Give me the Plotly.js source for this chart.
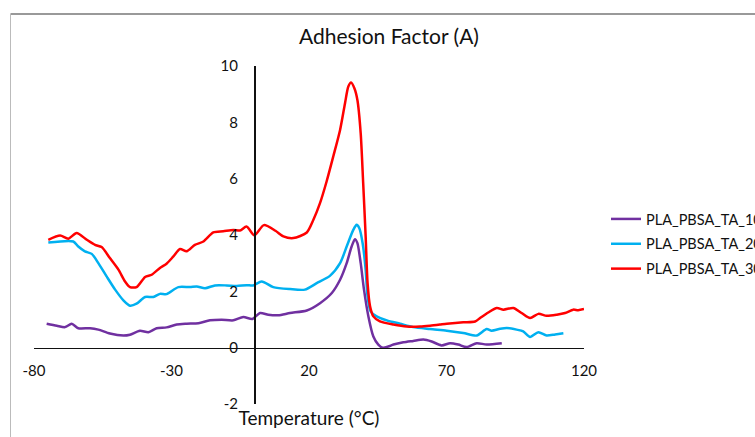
<!DOCTYPE html>
<html>
<head>
<meta charset="utf-8">
<script src="https://cdn.plot.ly/plotly-3.0.1.min.js"></script>
<style>html,body{margin:0;padding:0;background:#fff;}#chart{width:755px;height:437px;}</style>
</head>
<body>
<div id="chart"></div>
<script>
// Series names
const seriesNames = ["PLA_PBSA_TA_10", "PLA_PBSA_TA_20", "PLA_PBSA_TA_30"];

// PLA_PBSA_TA_10 (purple)
const t10 = [-75.4,-71.7,-68.7,-66.3,-63.9,-59.6,-56.6,-52.4,-47.5,-45.1,-41.5,-38.4,-35.4,-31.8,-28.1,-24.5,-20.2,-16.0,-11.8,-7.5,-3.9,-0.6,2.2,5.2,8.8,13.1,19.2,24.0,28.3,31.3,33.7,35.5,36.7,37.6,38.8,40.0,41.6,43.4,45.2,46.8,48.8,50.7,54.3,57.9,61.6,64.6,68.2,71.3,74.3,77.3,81.0,84.6,90.1];
const a10 = [0.85,0.78,0.73,0.85,0.69,0.69,0.64,0.50,0.43,0.46,0.60,0.55,0.69,0.72,0.82,0.85,0.87,0.97,0.99,0.97,1.09,1.02,1.23,1.17,1.15,1.23,1.32,1.58,1.94,2.41,3.00,3.59,3.85,3.71,3.00,2.06,1.11,0.40,0.11,0.00,0.04,0.11,0.19,0.24,0.29,0.22,0.08,0.16,0.11,0.02,0.16,0.11,0.16];

// PLA_PBSA_TA_20 (cyan)
const t20 = [-74.8,-65.7,-63.9,-61.5,-59.0,-56.6,-53.6,-50.5,-47.5,-45.1,-42.7,-39.6,-36.6,-34.2,-31.8,-27.5,-23.3,-20.8,-17.8,-14.2,-10.0,-6.3,-2.7,-0.3,2.8,7.0,13.1,18.5,22.8,27.6,31.3,33.7,36.1,37.3,38.3,39.5,40.6,41.3,42.4,44.6,48.3,53.1,57.9,64.0,70.1,76.1,81.0,84.6,86.4,89.5,91.9,95.5,97.9,100.4,103.4,106.4,109.5,112.5];
const a20 = [3.73,3.77,3.59,3.42,3.33,3.00,2.53,2.06,1.68,1.49,1.56,1.80,1.80,1.91,1.90,2.15,2.15,2.17,2.11,2.21,2.21,2.19,2.22,2.21,2.35,2.15,2.08,2.06,2.29,2.55,3.00,3.59,4.18,4.36,4.24,3.71,2.77,1.82,1.29,1.11,0.97,0.85,0.73,0.66,0.60,0.52,0.43,0.66,0.60,0.67,0.70,0.64,0.58,0.38,0.55,0.43,0.47,0.51];

// PLA_PBSA_TA_30 (red)
const t30 = [-74.8,-70.5,-67.5,-64.5,-60.8,-57.8,-55.4,-52.4,-49.3,-46.9,-45.1,-42.7,-39.6,-37.2,-34.2,-31.8,-29.3,-26.9,-24.5,-21.5,-18.4,-14.8,-11.2,-7.5,-5.1,-2.7,0.1,3.6,7.8,10.7,14.3,19.2,21.6,24.0,26.4,28.8,31.3,33.1,34.3,35.3,36.5,37.6,38.8,39.7,40.6,41.3,42.2,43.4,45.8,50.7,55.5,60.4,64.0,67.6,70.1,76.1,80.4,82.2,85.2,88.3,90.7,94.3,97.3,100.4,103.4,106.4,110.1,113.1,116.1,117.9,120.0];
const a30 = [3.83,3.98,3.87,4.07,3.83,3.65,3.57,3.18,2.77,2.35,2.15,2.15,2.51,2.59,2.83,2.98,3.24,3.50,3.42,3.65,3.77,4.09,4.13,4.18,4.16,4.30,3.99,4.35,4.15,3.95,3.89,4.09,4.54,5.13,5.90,6.78,7.73,8.68,9.27,9.41,9.21,8.79,7.61,5.84,3.95,2.29,1.47,1.11,0.93,0.82,0.75,0.75,0.78,0.82,0.85,0.90,0.93,1.05,1.25,1.41,1.35,1.41,1.23,1.05,1.20,1.13,1.17,1.23,1.35,1.33,1.37];

const xTicks = [-80, -30, 20, 70, 120];
const yTicks = [-2, 0, 2, 4, 6, 8, 10];

const colors = ["#7030A0", "#00B0F0", "#FF0000"];
const xs = [t10, t20, t30];
const ys = [a10, a20, a30];

const FONT = "Lato, 'Open Sans', sans-serif";

const traces = seriesNames.map((n, i) => ({
  type: "scatter",
  mode: "lines",
  name: n,
  x: xs[i],
  y: ys[i],
  legendgroup: "g" + i,
  line: {color: colors[i], width: 2.5, shape: "spline", smoothing: 0.7}
}));

const layout = {
  width: 755,
  height: 437,
  margin: {l: 34, r: 171, t: 66, b: 33, autoexpand: false},
  paper_bgcolor: "#ffffff",
  plot_bgcolor: "#ffffff",
  font: {family: FONT, color: "#111", size: 15},
  title: {
    text: "Adhesion Factor (A)",
    font: {family: FONT, size: 21, color: "#111"},
    xref: "container", yref: "container",
    x: 389 / 755, y: 1 - 37 / 437, xanchor: "center", yanchor: "middle"
  },
  xaxis: {
    range: [-80, 120],
    tickmode: "array", tickvals: xTicks, ticktext: xTicks.map(String),
    showgrid: false, zeroline: false,
    showline: true, linecolor: "#111", linewidth: 1.5,
    anchor: "free", position: 2 / 12,
    ticks: "", ticklabelstandoff: 9,
    tickfont: {family: FONT, size: 15, color: "#111"},
    title: {text: "Temperature (°C)", font: {family: FONT, size: 19, color: "#111"}, standoff: 33}
  },
  yaxis: {
    range: [-2, 10],
    tickmode: "array", tickvals: yTicks, ticktext: yTicks.map(String),
    showgrid: false, zeroline: false,
    showline: true, linecolor: "#111", linewidth: 1.5,
    anchor: "free", position: 0.4,
    ticks: "", ticklabelstandoff: 13,
    tickfont: {family: FONT, size: 15, color: "#111"}
  },
  legend: {
    x: (606 - 34) / 550, xanchor: "left",
    y: (404 - 203) / 338, yanchor: "top",
    font: {family: FONT, size: 14.5, color: "#111"},
    tracegroupgap: 3,
    bgcolor: "rgba(0,0,0,0)"
  },
  showlegend: true,
  shapes: [
    {type: "line", xref: "paper", yref: "paper", x0: (10.5 - 34) / 550, x1: (756 - 34) / 550, y0: (404 - 14) / 338, y1: (404 - 14) / 338, line: {color: "#999", width: 2}},
    {type: "line", xref: "paper", yref: "paper", x0: (10.5 - 34) / 550, x1: (10.5 - 34) / 550, y0: (404 - 14) / 338, y1: (404 - 437) / 338, line: {color: "#bbb", width: 1}}
  ]
};

Plotly.newPlot("chart", traces, layout, {displayModeBar: false, staticPlot: true});
</script>
</body>
</html>
